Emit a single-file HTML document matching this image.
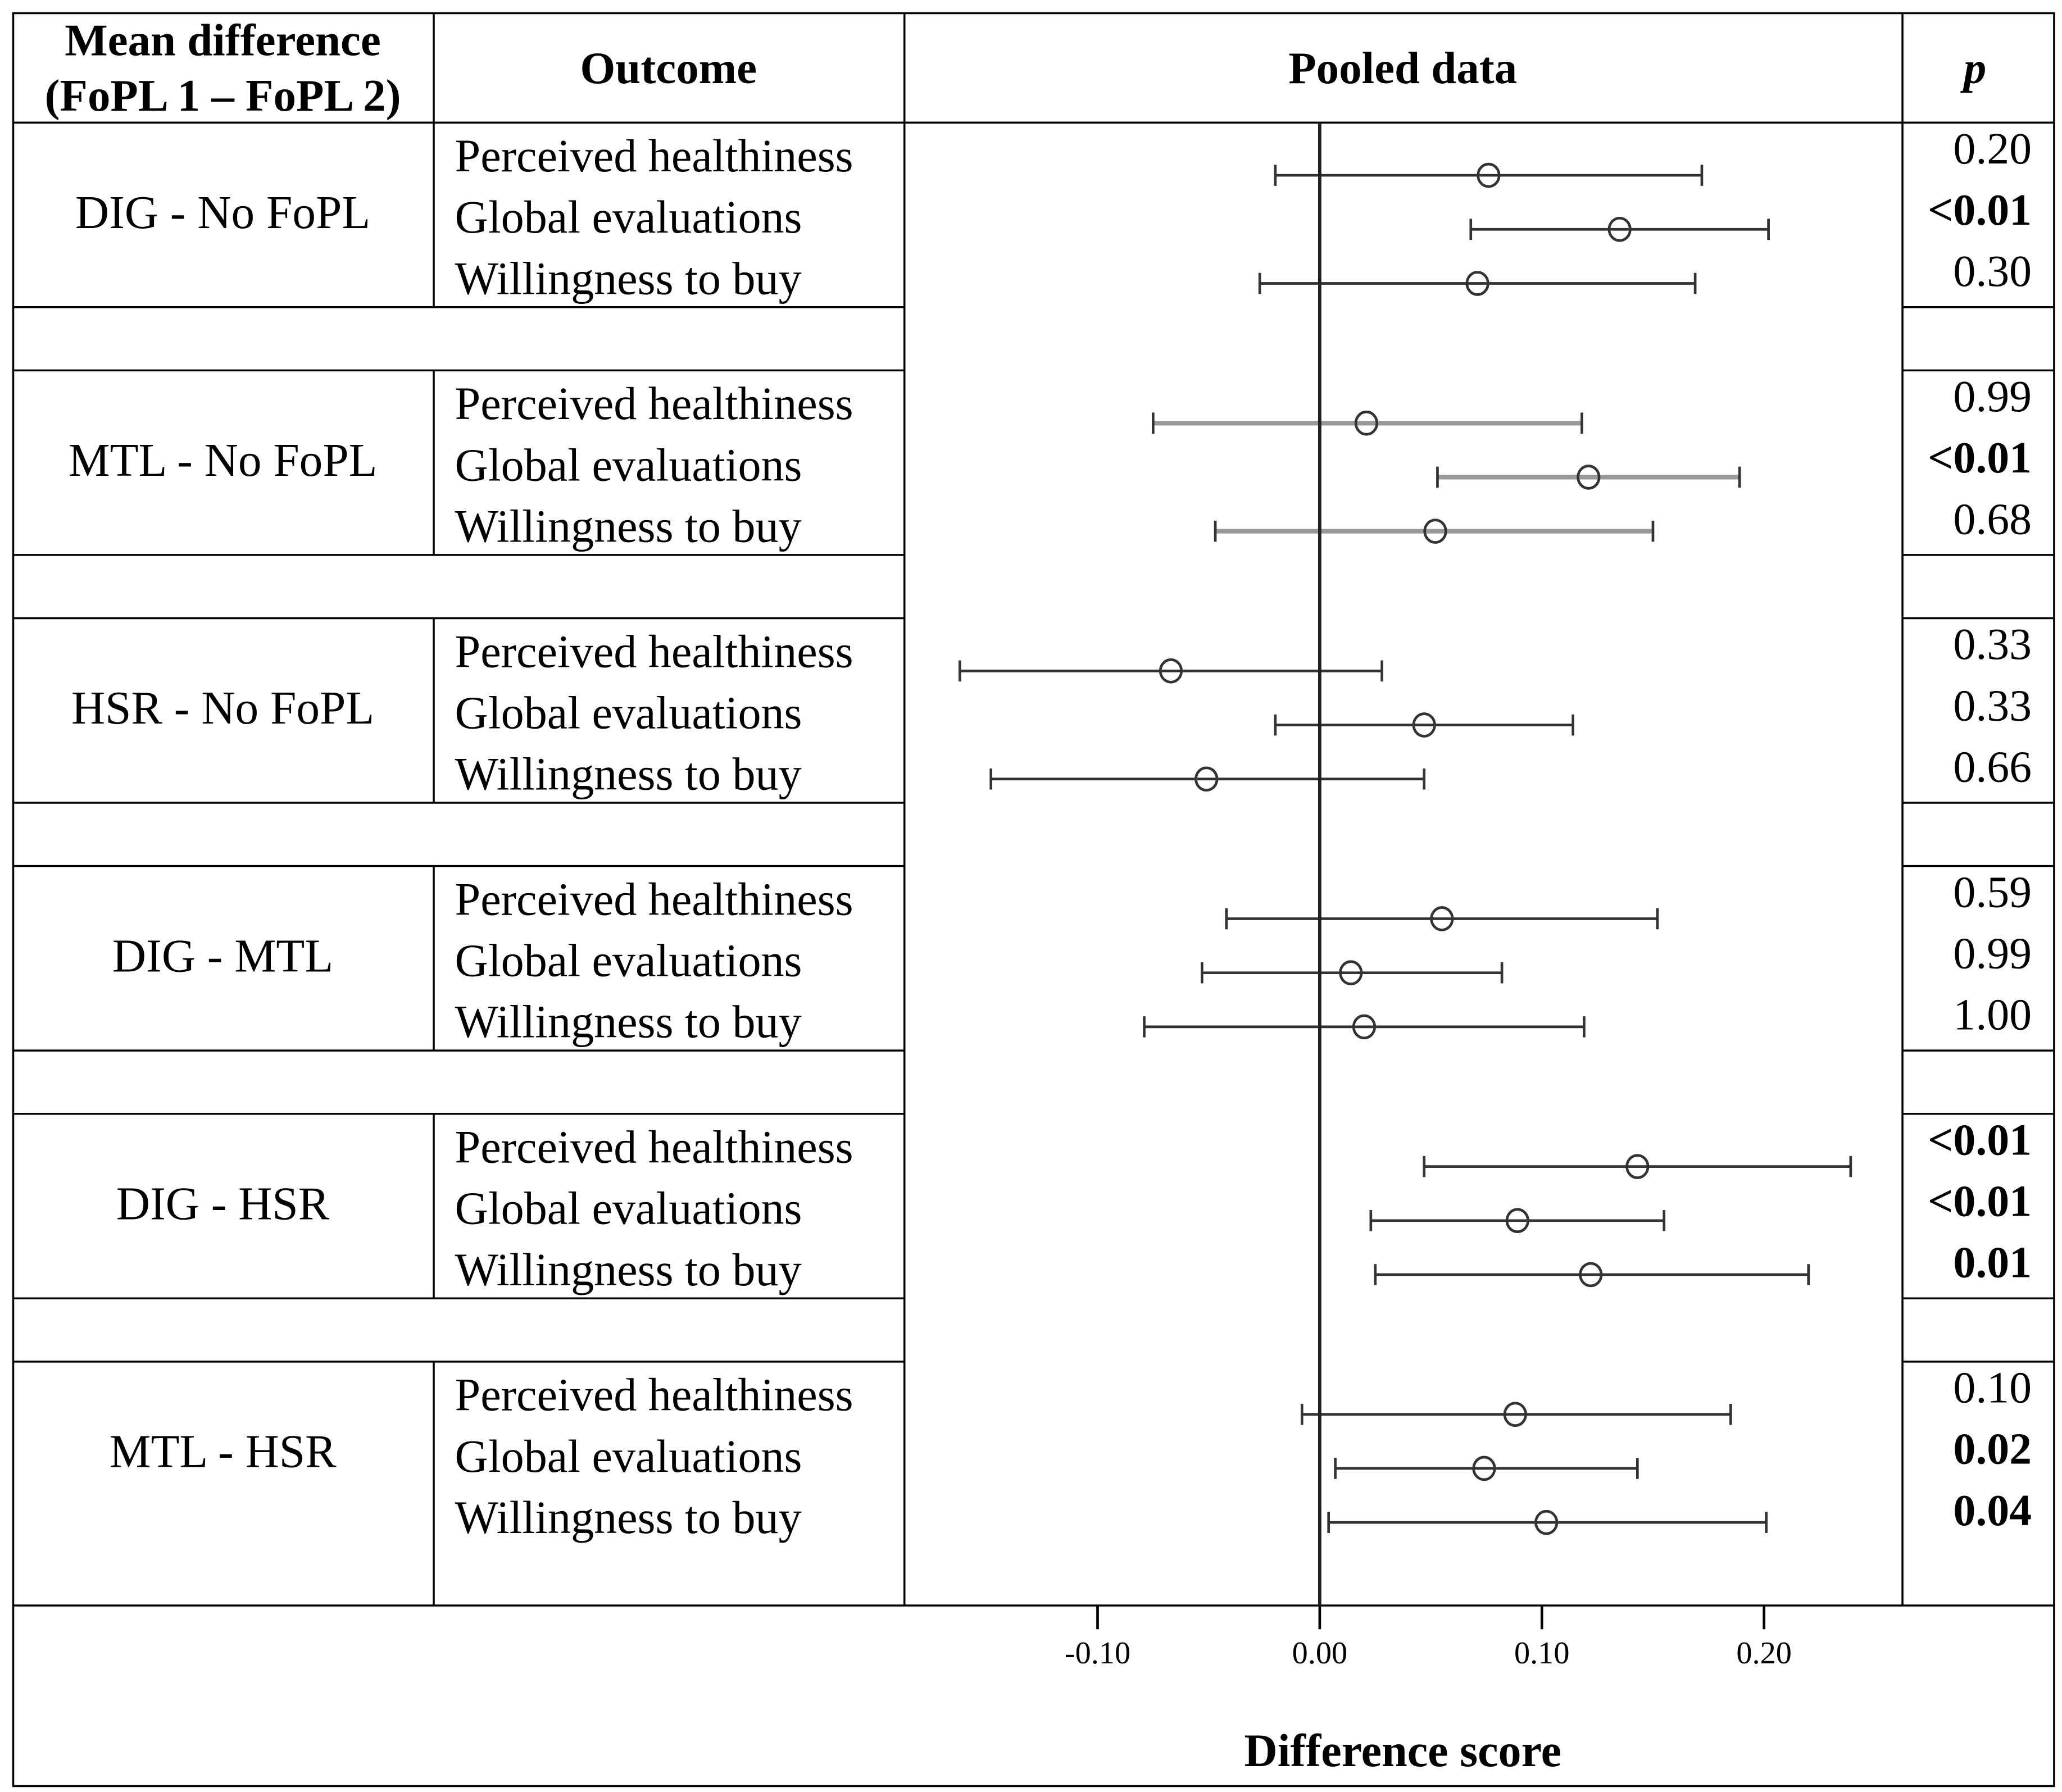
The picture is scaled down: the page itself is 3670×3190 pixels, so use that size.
<!DOCTYPE html>
<html><head><meta charset="utf-8"><style>
html,body{margin:0;padding:0;background:#fff}
svg{display:block}
text{font-family:"Liberation Serif",serif;fill:#000}
</style></head><body>
<svg id="chart" width="3670" height="3190" viewBox="0 0 1564 1359.5" preserveAspectRatio="none">
<g id="table" stroke="#000" stroke-width="1.5" fill="none"></g>
<g id="texts"></g>
<g id="plot"></g>
</svg>
<script>
const groups=["DIG - No FoPL","MTL - No FoPL","HSR - No FoPL","DIG - MTL","DIG - HSR","MTL - HSR"];
const outcomes=["Perceived healthiness","Global evaluations","Willingness to buy"];
const means=[0.076,0.135,0.071, 0.021,0.121,0.052, -0.067,0.047,-0.051, 0.055,0.014,0.020, 0.143,0.089,0.122, 0.088,0.074,0.102];
const lows=[-0.020,0.068,-0.027, -0.075,0.053,-0.047, -0.162,-0.020,-0.148, -0.042,-0.053,-0.079, 0.047,0.023,0.025, -0.008,0.007,0.004];
const highs=[0.172,0.202,0.169, 0.118,0.189,0.150, 0.028,0.114,0.047, 0.152,0.082,0.119, 0.239,0.155,0.220, 0.185,0.143,0.201];
const pvals=["0.20","<0.01","0.30","0.99","<0.01","0.68","0.33","0.33","0.66","0.59","0.99","1.00","<0.01","<0.01","0.01","0.10","0.02","0.04"];
const pbold=[0,1,0,0,1,0,0,0,0,0,0,0,1,1,1,0,1,1];
const ticks=[-0.10,0.00,0.10,0.20];
const tickLabels=["-0.10","0.00","0.10","0.20"];
const NS="http://www.w3.org/2000/svg";
function mk(tag,attrs,parent){const e=document.createElementNS(NS,tag);for(const k in attrs)e.setAttribute(k,attrs[k]);parent.appendChild(e);return e;}
const X=v=>1001+v*1685;
const tbl=document.getElementById('table'),tx=document.getElementById('texts'),pl=document.getElementById('plot');
let r=mk('rect',{x:10,y:10,width:1548,height:1345},tbl);

[[686,10,686,1218],[1443,10,1443,1218],[329,10,329,93]].forEach(c=>{const l=mk('line',{x1:c[0],y1:c[1],x2:c[2],y2:c[3]},tbl);});
mk('line',{x1:10,y1:93,x2:1558,y2:93},tbl);
const gTop=[93,281,469,657,845,1033];
gTop.forEach((t,i)=>{
  const b=(i<5)?t+140:1218;
  let l=mk('line',{x1:329,y1:t,x2:329,y2:b},tbl);
  if(i<5){
    l=mk('line',{x1:10,y1:b,x2:686,y2:b},tbl);
    l=mk('line',{x1:1443,y1:b,x2:1558,y2:b},tbl);
    l=mk('line',{x1:10,y1:b+48,x2:686,y2:b+48},tbl);
    l=mk('line',{x1:1443,y1:b+48,x2:1558,y2:b+48},tbl);
  }
});
mk('line',{x1:10,y1:1218,x2:1558,y2:1218},tbl);
function T(s,x,y,o){const e=mk('text',Object.assign({x:x,y:y,'font-size':35},o||{}),tx);e.textContent=s;return e;}
let e;
e=T("Mean difference",169,42,{'text-anchor':'middle','font-weight':'bold','font-size':34.5});
e=T("(FoPL 1 \u2013 FoPL 2)",169,84,{'text-anchor':'middle','font-weight':'bold','font-size':34.5});
e=T("Outcome",507,63,{'text-anchor':'middle','font-weight':'bold','font-size':34.5});
e=T("Pooled data",1064,63,{'text-anchor':'middle','font-weight':'bold','font-size':34.5});
e=T("p",1498,63,{'text-anchor':'middle','font-weight':'bold','font-style':'italic','font-size':34.5});
groups.forEach((g,i)=>{
  const t=gTop[i];
  e=T(g,169,t+80,{'text-anchor':'middle','font-size':35.5});
  outcomes.forEach((o,j)=>{
    e=T(o,345,t+37+j*46.5,{'font-size':35});
    const k=i*3+j;
    e=T(pvals[k],1541,t+31+j*46.5,{'text-anchor':'end','font-weight':pbold[k]?'bold':'normal','font-size':34});
    const y=t+40+j*41;
    const gray=(i===1);
    const col=gray?'#999':'#333',sw=gray?3.5:2;
    const ln=mk('line',{x1:X(lows[k]),y1:y,x2:X(highs[k]),y2:y,stroke:col,'stroke-width':sw},pl);
    
    [lows[k],highs[k]].forEach(v=>{const c=mk('line',{x1:X(v),y1:y-8,x2:X(v),y2:y+8,stroke:'#333','stroke-width':2},pl);});
    const pt=mk('ellipse',{cx:X(means[k]),cy:y,rx:8,ry:8.5,fill:'none',stroke:'#333','stroke-width':2},pl);
    
  });
});
const zl=mk('line',{x1:X(0),y1:93,x2:X(0),y2:1218,stroke:'#222','stroke-width':2.5},pl);

ticks.forEach((v,i)=>{
  const l=mk('line',{x1:X(v),y1:1218,x2:X(v),y2:1236,stroke:'#000','stroke-width':2},pl);
  
  const t=T(tickLabels[i],X(v),1262,{'text-anchor':'middle','font-size':24});
  
});
e=T("Difference score",1064,1340,{'text-anchor':'middle','font-weight':'bold','font-size':35});
</script>
</body></html>
